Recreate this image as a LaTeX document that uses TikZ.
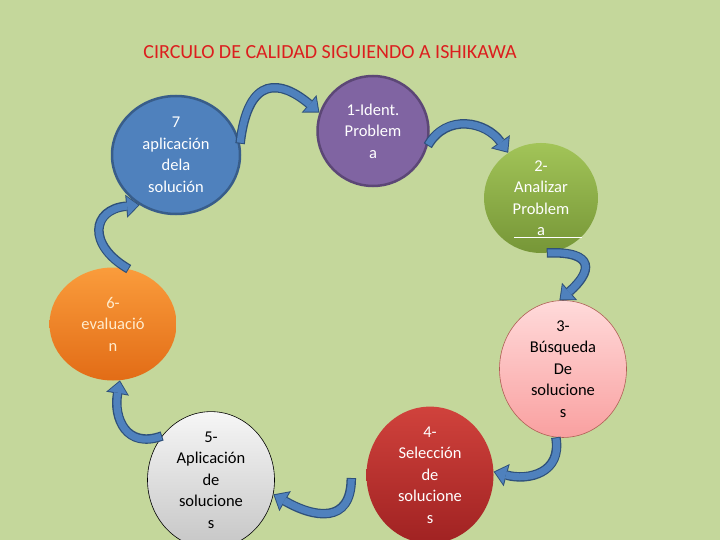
\documentclass[tikz,border=0pt]{standalone}
\usepackage{fontspec}
\setmainfont{Carlito}
\usetikzlibrary{shapes.geometric}
\usetikzlibrary{arrows.meta}
\usetikzlibrary{calc}

\definecolor{bggreen}{RGB}{196,215,155}
\definecolor{titlered}{RGB}{220,30,30}
\definecolor{arrowblue}{RGB}{79,129,189}
\definecolor{arrowdark}{RGB}{46,80,122}
\definecolor{blueseven}{RGB}{79,129,189}
\definecolor{bluesevenline}{RGB}{56,93,138}
\definecolor{purpleone}{RGB}{128,100,162}
\definecolor{purpleoneline}{RGB}{92,71,118}
\definecolor{greentop}{RGB}{162,196,88}
\definecolor{greenbot}{RGB}{118,150,55}
\definecolor{orangetop}{RGB}{250,156,60}
\definecolor{orangebot}{RGB}{226,108,22}
\definecolor{orangetext}{RGB}{255,236,205}
\definecolor{pinktop}{RGB}{255,218,218}
\definecolor{pinkbot}{RGB}{249,160,160}
\definecolor{pinkline}{RGB}{175,95,85}
\definecolor{graytop}{RGB}{246,246,246}
\definecolor{graybot}{RGB}{198,198,198}
\definecolor{redtop}{RGB}{208,66,60}
\definecolor{redbot}{RGB}{160,34,34}

\begin{document}
\begin{tikzpicture}[x=1pt, y=-1pt,
    stage/.style={ellipse, minimum width=127pt, minimum height=113pt, inner sep=0pt, align=center, font=\fontsize{16.5}{21.5}\selectfont},
    flow/.style={line width=7pt, draw=arrowblue, shorten >=1.5pt, shorten <=1pt,
      -{Triangle[length=11pt, width=19pt, line width=0pt]},
      preaction={draw=arrowdark, line width=9.5pt, shorten >=0pt, shorten <=0pt,
        -{Triangle[length=13.5pt, width=23pt, line width=0pt]}}}]

        \useasboundingbox[fill=bggreen] (0,0) rectangle (720,540);

        \node[text=titlered, font=\fontsize{20}{24}\selectfont] (title) at (330,52) {CIRCULO DE CALIDAD SIGUIENDO A ISHIKAWA};

        % the seven stages
        \node[stage, fill=blueseven, draw=bluesevenline, line width=2.5pt, text=white, minimum width=128pt, minimum height=118pt] (s7) at (176,155) {7\\aplicación\\dela\\solución};
        \node[stage, fill=purpleone, draw=purpleoneline, line width=2.5pt, text=white, minimum width=111pt, minimum height=110pt] (s1) at (373,131) {1-Ident.\\Problem\\a};
        \node[stage, top color=greentop, bottom color=greenbot, text=white, minimum width=114pt, minimum height=110pt] (s2) at (541,198) {2-\\Analizar\\Problem\\a};
        \node[stage, top color=pinktop, bottom color=pinkbot, draw=pinkline, line width=0.6pt] (s3) at (563,369) {3-\\Búsqueda\\De\\solucione\\s};
        \node[stage, top color=redtop, bottom color=redbot, text=white] (s4) at (430,475) {4-\\Selección\\de\\solucione\\s};
        \node[stage, top color=graytop, bottom color=graybot, draw=black, line width=0.6pt] (s5) at (211,480) {5-\\Aplicación\\de\\solucione\\s};
        \node[stage, top color=orangetop, bottom color=orangebot, text=orangetext] (s6) at (113,324) {6-\\evaluació\\n};

        \draw[white, line width=0.6pt] ($(s2.center)+(-27,39)$) -- ($(s2.center)+(41,39)$);

        % curved arrows round the circle
        \coordinate (t4) at ($(s4.west)+(-15,3)$);
        \draw[flow] (s7.10) .. controls +(8,-70) and +(-38,-32) .. (s1.161);
        \draw[flow] (s1.-15) to[out=60, in=125, looseness=1.2] (s2.126);
        \draw[flow] (s2.-84) .. controls +(50,-2) and +(32,-28) .. (s3.93);
        \draw[flow] (s3.-96) to[out=-80, in=-15, looseness=1.3] (s4.3);
        \draw[flow] (t4) to[out=-90, in=-30, looseness=1.5] (s5.-13);
        \draw[flow] (s5.138) to[out=200, in=-100, looseness=1.4] (s6.-83);
        \draw[flow] (s6.74) to[out=150, in=185, looseness=1.9] (s7.234);

      \end{tikzpicture}
\end{document}
